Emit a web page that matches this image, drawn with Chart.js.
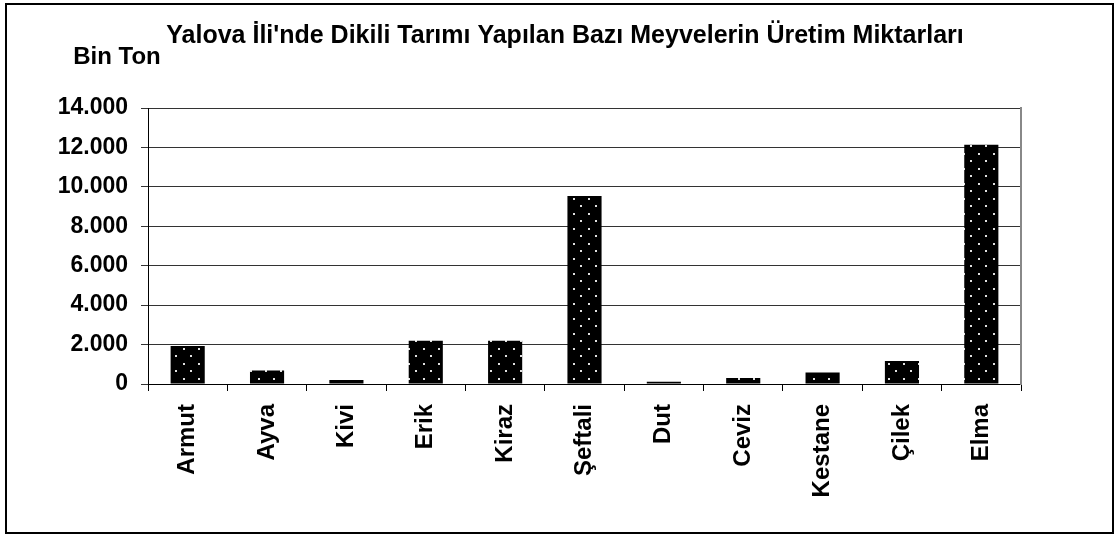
<!DOCTYPE html>
<html>
<head>
<meta charset="utf-8">
<script src="https://cdn.jsdelivr.net/npm/chart.js@4"></script>
<style>
  body { margin: 0; background: #fff; }
  #frame { position: absolute; left: 0; top: 0; width: 1115px; height: 535px; }
  #border { position: absolute; left: 5px; top: 3px; width: 1105px; height: 527px; border: 2px solid #000; pointer-events: none; }
</style>
</head>
<body>
<div id="frame"><canvas id="barchart"></canvas></div>
<div id="border"></div>
<script>
const categories = ['Armut', 'Ayva', 'Kivi', 'Erik', 'Kiraz', 'Şeftali', 'Dut', 'Ceviz', 'Kestane', 'Çilek', 'Elma'];
const production = [1930, 680, 200, 2200, 2200, 9540, 120, 305, 580, 1170, 12130];
const yTicks = [0, 2000, 4000, 6000, 8000, 10000, 12000, 14000];
const yTickLabels = ['0', '2.000', '4.000', '6.000', '8.000', '10.000', '12.000', '14.000'];

const font = 'Liberation Sans, Arial, sans-serif';

// black fill with small light dots, like the old excel pattern
function dotPattern() {
  const c = document.createElement('canvas');
  c.width = 15; c.height = 15;
  const g = c.getContext('2d');
  g.fillStyle = '#000';
  g.fillRect(0, 0, 15, 15);
  g.fillStyle = '#e0e0e0';
  g.fillRect(3, 3, 2, 2);
  g.fillRect(10, 10, 2, 2);
  return g.createPattern(c, 'repeat');
}

// y axis unit label, sits left of the title
const unitLabel = {
  id: 'unitLabel',
  afterDraw(chart) {
    const ctx = chart.ctx;
    ctx.save();
    ctx.fillStyle = '#000';
    ctx.font = 'bold 24px ' + font;
    ctx.textAlign = 'center';
    ctx.textBaseline = 'middle';
    ctx.fillText('Bin Ton', 117, 57);
    ctx.restore();
  }
};

const canvas = document.getElementById('barchart');
const ctx = canvas.getContext('2d');
let barchart = new Chart(ctx, {
  type: 'bar',
  data: {
    labels: categories,
    datasets: [{
      label: 'Bin Ton',
      data: production,
      backgroundColor: dotPattern(),
      borderWidth: 0,
      categoryPercentage: 1,
      barPercentage: 0.43
    }]
  },
  options: {
    responsive: true,
    maintainAspectRatio: false,
    animation: false,
    layout: { padding: { left: 15, right: 0, top: 0, bottom: 0 } },
    plugins: {
      legend: { display: false },
      tooltip: { enabled: false },
      title: {
        display: true,
        text: "Yalova İli'nde Dikili Tarımı Yapılan Bazı Meyvelerin Üretim Miktarları",
        color: '#000',
        font: { family: font, size: 25, weight: 'bold' },
        padding: { top: 21, bottom: 57 }
      }
    },
    scales: {
      x: {
        afterFit(s) { s.height = 151; },
        grid: { drawOnChartArea: false, drawTicks: true, tickLength: 7, color: '#000', offset: true },
        border: { color: '#000', width: 1 },
        ticks: {
          color: '#000',
          minRotation: 90, maxRotation: 90,
          padding: 13,
          font: { family: font, size: 24, weight: 'bold' }
        }
      },
      y: {
        min: 0,
        max: 14000,
        afterFit(s) { s.width = 133; },
        afterBuildTicks(s) { s.ticks = yTicks.map(v => ({ value: v })); },
        grid: { color: '#333', tickLength: 7 },
        border: { color: '#000', width: 1 },
        ticks: {
          color: '#000',
          padding: 13,
          font: { family: font, size: 23, weight: 'bold' },
          callback: (v) => yTickLabels[yTicks.indexOf(v)]
        }
      },
      // empty right axis: only keeps the right margin and draws the grey frame edge
      yRight: {
        position: 'right',
        afterFit(s) { s.width = 94; },
        grid: { display: false },
        ticks: { display: false },
        border: { color: '#888', width: 2 }
      }
    }
  },
  plugins: [unitLabel]
});
</script>
</body>
</html>
